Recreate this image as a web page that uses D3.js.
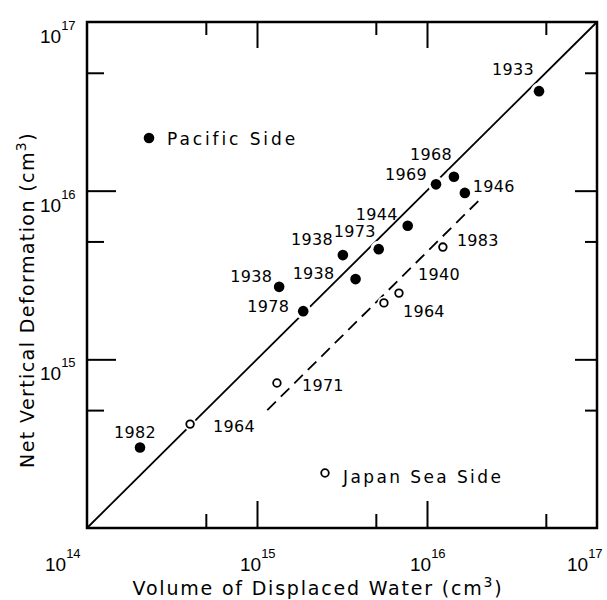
<!DOCTYPE html>
<html>
<head>
<meta charset="utf-8">
<script src="https://cdn.jsdelivr.net/npm/d3@7"></script>
<style>
  body { margin: 0; background: #fff; }
  svg { font-family: "DejaVu Sans", sans-serif; }
</style>
</head>
<body>
<svg width="607" height="600"></svg>
<script>
// Pacific side (filled dots): year, displaced water volume, net vertical deformation (cm3)
const pacificYears = ["1933", "1968", "1969", "1946", "1944", "1973", "1938", "1938", "1938", "1978", "1982"];
const pacificVolume = [4.56e16, 1.44e16, 1.13e16, 1.67e16, 7.7e15, 5.2e15, 3.2e15, 3.8e15, 1.35e15, 1.87e15, 2.05e14];
const pacificDeform = [3.89e16, 1.21e16, 1.09e16, 9.7e15, 6.2e15, 4.5e15, 4.15e15, 2.99e15, 2.69e15, 1.93e15, 3.0e14];

// Japan Sea side (open circles)
const japanYears = ["1964", "1971", "1964", "1940", "1983"];
const japanVolume = [4.04e14, 1.31e15, 5.58e15, 6.84e15, 1.24e16];
const japanDeform = [4.13e14, 7.24e14, 2.16e15, 2.47e15, 4.63e15];

// 1:1 line and the dashed Japan Sea trend
const solidLine = [[1e14, 1e14], [1e17, 1e17]];
const dashedLine = [[1.15e15, 5.0e14], [2.1e16, 9.1e15]];

// axis ticks
const majorTicks = [1e14, 1e15, 1e16, 1e17];
const minorTicks = [5e14, 5e15, 5e16];
const tickExponents = ["14", "15", "16", "17"];

// label placement (pixel offsets from the mark), kept apart from the data
const pacificLabelPos = [
  { dx: -5, dy: -16, anchor: "end" },
  { dx: -2, dy: -17, anchor: "end" },
  { dx: -9, dy: -4, anchor: "end" },
  { dx: 8, dy: -1, anchor: "start" },
  { dx: -10, dy: -6, anchor: "end" },
  { dx: -3, dy: -12, anchor: "end" },
  { dx: -10, dy: -10, anchor: "end" },
  { dx: -21, dy: 0, anchor: "end" },
  { dx: -7, dy: -5, anchor: "end" },
  { dx: -14, dy: 1, anchor: "end" },
  { dx: -5, dy: -10, anchor: "middle" }
];
const japanLabelPos = [
  { dx: 23, dy: 8 },
  { dx: 25, dy: 8 },
  { dx: 19, dy: 14 },
  { dx: 19, dy: -13 },
  { dx: 14, dy: -1 }
];

const svg = d3.select("svg");
const plotLeft = 87, plotRight = 597, plotTop = 22, plotBottom = 528;

const x = d3.scaleLog().domain([1e14, 1e17]).range([plotLeft, plotRight]);
const y = d3.scaleLog().domain([1e14, 1e17]).range([plotBottom, plotTop]);

const pacific = pacificYears.map((yr, i) => ({ year: yr, v: pacificVolume[i], d: pacificDeform[i], pos: pacificLabelPos[i] }));
const japan = japanYears.map((yr, i) => ({ year: yr, v: japanVolume[i], d: japanDeform[i], pos: japanLabelPos[i] }));

// ticks (inward, on all four sides)
function tickAxis(axis, size, tf) {
  const g = svg.append("g").attr("transform", tf).call(axis.tickSize(-size).tickFormat(""));
  g.select(".domain").remove();
  g.selectAll("line").attr("stroke", "#000").attr("stroke-width", 2);
}
tickAxis(d3.axisBottom(x).tickValues(majorTicks.slice(1, 3)), 27, `translate(0,${plotBottom})`);
tickAxis(d3.axisBottom(x).tickValues(minorTicks), 14, `translate(0,${plotBottom})`);
tickAxis(d3.axisTop(x).tickValues(majorTicks.slice(1, 3)), 26, `translate(0,${plotTop})`);
tickAxis(d3.axisTop(x).tickValues(minorTicks), 13, `translate(0,${plotTop})`);
tickAxis(d3.axisLeft(y).tickValues(majorTicks.slice(1, 3)), 29, `translate(${plotLeft},0)`);
tickAxis(d3.axisLeft(y).tickValues(minorTicks), 17, `translate(${plotLeft},0)`);
tickAxis(d3.axisRight(y).tickValues(majorTicks.slice(1, 3)), 22, `translate(${plotRight},0)`);
tickAxis(d3.axisRight(y).tickValues(minorTicks), 12, `translate(${plotRight},0)`);

// frame
svg.append("rect")
  .attr("x", plotLeft).attr("y", plotTop)
  .attr("width", plotRight - plotLeft).attr("height", plotBottom - plotTop)
  .attr("fill", "none").attr("stroke", "#000").attr("stroke-width", 2.5);

// lines
const line = d3.line().x(d => x(d[0])).y(d => y(d[1]));
svg.append("path").attr("d", line(solidLine))
  .attr("fill", "none").attr("stroke", "#000").attr("stroke-width", 1.8);
svg.append("path").attr("d", line(dashedLine))
  .attr("fill", "none").attr("stroke", "#000").attr("stroke-width", 1.8)
  .attr("stroke-dasharray", "12,7");

// points with a white halo so the lines break around them
svg.append("g").selectAll("circle")
  .data(pacific).enter().append("circle")
  .attr("cx", d => x(d.v)).attr("cy", d => y(d.d))
  .attr("r", 5.3).attr("fill", "#000")
  .attr("stroke", "#fff").attr("stroke-width", 6).attr("paint-order", "stroke");

svg.append("g").selectAll("circle")
  .data(japan).enter().append("circle")
  .attr("cx", d => x(d.v)).attr("cy", d => y(d.d))
  .attr("r", 6.5).attr("fill", "#fff");
svg.append("g").selectAll("circle")
  .data(japan).enter().append("circle")
  .attr("cx", d => x(d.v)).attr("cy", d => y(d.d))
  .attr("r", 3.8).attr("fill", "#fff")
  .attr("stroke", "#000").attr("stroke-width", 1.8);

// year labels
svg.append("g").selectAll("text")
  .data(pacific).enter().append("text")
  .attr("x", d => x(d.v) + d.pos.dx).attr("y", d => y(d.d) + d.pos.dy)
  .attr("text-anchor", d => d.pos.anchor)
  .attr("font-size", 16).attr("letter-spacing", 0.3)
  .text(d => d.year);

svg.append("g").selectAll("text")
  .data(japan).enter().append("text")
  .attr("x", d => x(d.v) + d.pos.dx).attr("y", d => y(d.d) + d.pos.dy)
  .attr("font-size", 16).attr("letter-spacing", 0.3)
  .text(d => d.year);

// legend
svg.append("circle").attr("cx", 149).attr("cy", 138).attr("r", 5.3).attr("fill", "#000");
svg.append("text").attr("x", 167).attr("y", 145).attr("font-size", 17).attr("letter-spacing", 2.9)
  .text("Pacific Side");
svg.append("circle").attr("cx", 325).attr("cy", 473).attr("r", 3.8)
  .attr("fill", "#fff").attr("stroke", "#000").attr("stroke-width", 1.8);
svg.append("text").attr("x", 343).attr("y", 483).attr("font-size", 17).attr("letter-spacing", 2.4)
  .text("Japan Sea Side");

// tick labels 10^n
function powerLabel(px, py, exp) {
  const t = svg.append("text").attr("x", px).attr("y", py)
    .attr("font-family", "Liberation Sans, sans-serif").attr("font-size", 19);
  t.append("tspan").text("10");
  t.append("tspan").attr("dy", -13).attr("font-size", 13).text(exp);
}
const xLabelShift = [-42, -17, -17, -30];
majorTicks.forEach((v, i) => powerLabel(x(v) + xLabelShift[i], 571, tickExponents[i]));
majorTicks.slice(1).forEach((v, i) => powerLabel(40, y(v) + 21, tickExponents[i + 1]));

// axis titles
const xt = svg.append("text").attr("x", 318).attr("y", 595)
  .attr("text-anchor", "middle").attr("font-size", 19).attr("letter-spacing", 1.8);
xt.append("tspan").text("Volume of Displaced Water (cm");
xt.append("tspan").attr("dy", -8).attr("font-size", 14).text("3");
xt.append("tspan").attr("dy", 8).text(")");

const yt = svg.append("text").attr("transform", "translate(34,300) rotate(-90)")
  .attr("text-anchor", "middle").attr("font-size", 19).attr("letter-spacing", 1.4);
yt.append("tspan").text("Net Vertical Deformation (cm");
yt.append("tspan").attr("dy", -8).attr("font-size", 14).text("3");
yt.append("tspan").attr("dy", 8).text(")");
</script>
</body>
</html>
